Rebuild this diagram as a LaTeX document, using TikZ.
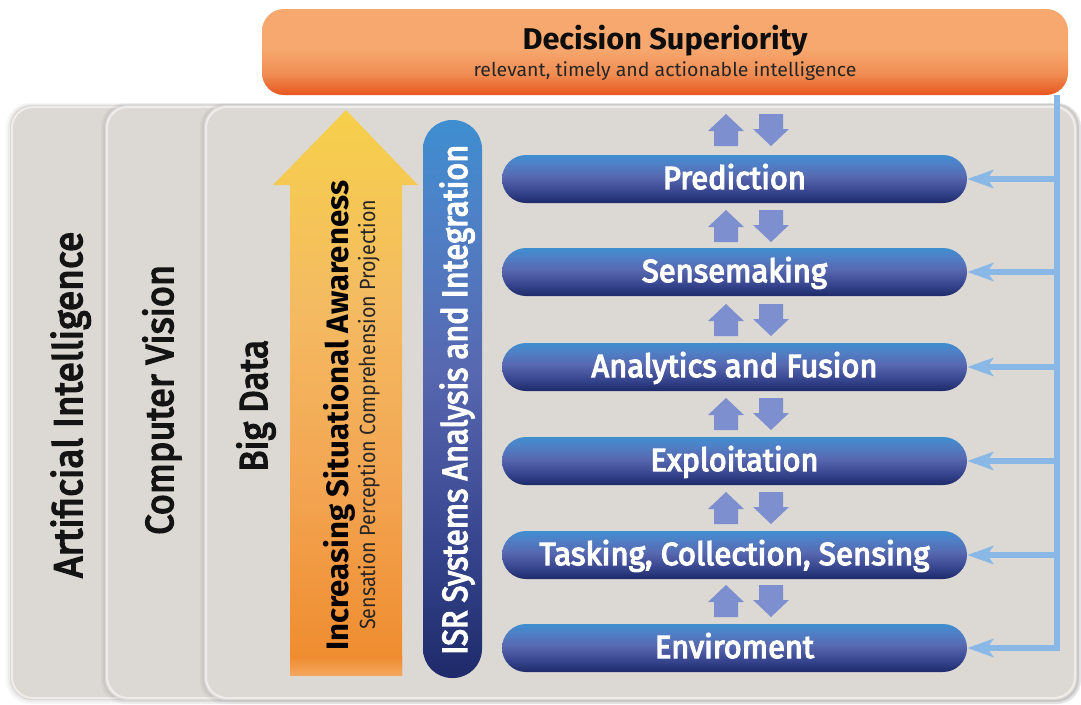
\documentclass[tikz,border=0pt]{standalone}
\usepackage{fontspec}
\setmainfont{Fira Sans}
\newfontfamily\firasemi{Fira Sans}[FakeBold=4]
\usetikzlibrary{arrows.meta}
\definecolor{panelgray}{HTML}{DCD9D5}
\definecolor{conncol}{HTML}{8AB8E6}
\definecolor{smallarr}{HTML}{7E8FD0}
\definecolor{dsbot}{HTML}{E7561F}
\definecolor{dsmid}{HTML}{F08C52}
\definecolor{dstop}{HTML}{F6A86E}
\definecolor{bbot}{HTML}{1E2A69}
\definecolor{bmid1}{HTML}{34438B}
\definecolor{bmid2}{HTML}{5767AF}
\definecolor{bmid3}{HTML}{4F80C6}
\definecolor{btop}{HTML}{3E8ED0}
\definecolor{obot}{HTML}{EF8A2D}
\definecolor{omid}{HTML}{F3A552}
\definecolor{omid2}{HTML}{F4BB62}
\definecolor{otop}{HTML}{F6D04A}
\definecolor{ostrip}{HTML}{F4A65E}
\pgfdeclareverticalshading{dsshade}{100bp}{color(0bp)=(dsbot); color(25bp)=(dsbot); color(37bp)=(dsmid); color(52bp)=(dstop); color(75bp)=(dstop); color(100bp)=(dstop)}
\pgfdeclareverticalshading{barshade}{100bp}{color(0bp)=(bbot); color(25bp)=(bbot); color(36bp)=(bmid1); color(52bp)=(bmid2); color(66bp)=(bmid3); color(75bp)=(btop); color(100bp)=(btop)}
\pgfdeclareverticalshading{orshade}{100bp}{color(0bp)=(obot); color(25bp)=(obot); color(42bp)=(omid); color(58bp)=(omid2); color(75bp)=(otop); color(100bp)=(otop)}
\newsavebox\fitbox
\newlength\fitlen
\newcommand{\fitw}[2]{\sbox\fitbox{#2}\setlength\fitlen{\wd\fitbox}\pgfmathsetmacro\fitr{#1/\fitlen}\scalebox{\fitr}[1]{\usebox\fitbox}}
\newcommand{\upar}[2]{\fill[smallarr] (#1,#2-16) -- (#1+18,#2+1) -- (#1+12,#2+1) -- (#1+12,#2+16) -- (#1-12,#2+16) -- (#1-12,#2+1) -- (#1-18,#2+1) -- cycle;}
\newcommand{\downar}[2]{\fill[smallarr] (#1,#2+16) -- (#1+18,#2-1) -- (#1+12,#2-1) -- (#1+12,#2-16) -- (#1-12,#2-16) -- (#1-12,#2-1) -- (#1-18,#2-1) -- cycle;}
\tikzset{
  bar/.style={shading=barshade, rounded corners=24pt, minimum width=465pt, minimum height=48pt,
    inner sep=0pt, text=white, text height=21pt, text depth=1pt,
    font=\fontsize{32}{36}\selectfont\firasemi},
  rlabel/.style={rotate=90, anchor=base west, inner sep=0pt},
  conn/.style={draw=conncol, line width=6pt},
  connarr/.style={conn, -{Stealth[length=26pt,width=18pt,inset=6pt]}},
}
\begin{document}
\begin{tikzpicture}[x=1pt,y=-1pt]
\useasboundingbox (0,0) rectangle (1081,704);
\fill[white] (0,0) rectangle (1081,704);
% panels
\foreach \xl in {10,105,204} {
  \fill[black,opacity=0.035,rounded corners=24pt] (\xl-4,103) rectangle (1081,704);
  \fill[black,opacity=0.04,rounded corners=23pt] (\xl-2,104) rectangle (1079,702);
  \fill[panelgray, rounded corners=22pt] (\xl,105) rectangle (1077,700);
  \draw[white,opacity=0.55,line width=2pt,rounded corners=21pt] (\xl+2,107) rectangle (1075,698);
}
\node[rlabel, font=\fontsize{40}{44}\selectfont\firasemi, text=black!92] (ai) at (82,578) {\fitw{346}{Artificial Intelligence}};
\node[rlabel, font=\fontsize{39}{44}\selectfont\firasemi, text=black!92] (cv) at (173,535) {\fitw{270}{Computer Vision}};
\node[rlabel, font=\fontsize{39}{44}\selectfont\firasemi, text=black!92] (bd) at (267,472) {\fitw{132}{Big Data}};
% orange arrow
\shade[shading=orshade] (290,675) -- (290,185) -- (273,185) -- (346,110) -- (418,185) -- (402,185) -- (402,675) -- cycle;
\shade[top color=obot, bottom color=ostrip] (290,656) rectangle (402,675);
\node[rlabel, font=\fontsize{31}{34}\selectfont\bfseries, text=black] (isa) at (348,651) {\fitw{470}{Increasing Situational Awareness}};
\node[rlabel, font=\fontsize{22}{24}\selectfont, text=black!85] (spcp) at (375,630) {\fitw{430}{Sensation Perception Comprehension Projection}};
% ISR bar
\node[shading=barshade, rounded corners=29pt, minimum width=59pt, minimum height=558pt, inner sep=0pt] (isr) at (452.5,399) {};
\node[rlabel, font=\fontsize{35}{38}\selectfont\firasemi, text=white] (isrt) at (467,655) {\fitw{510}{ISR Systems Analysis and Integration}};
% decision box
\node[shading=dsshade, rounded corners=22pt, minimum width=806pt, minimum height=86pt, inner sep=0pt] (ds) at (665,52) {};
\node[anchor=base, inner sep=0pt, font=\fontsize{30}{32}\selectfont\bfseries, text=black!95] (dst) at (665,49) {\fitw{285}{Decision Superiority}};
\node[anchor=base, inner sep=0pt, font=\fontsize{19}{22}\selectfont, text=black!85] (dss) at (665,76) {\fitw{383}{relevant, timely and actionable intelligence}};
% bars
\node[bar] (b1) at (734.5,179) {\fitw{143}{Prediction}};
\node[bar] (b2) at (734.5,272) {\fitw{185}{Sensemaking}};
\node[bar] (b3) at (734.5,367) {\fitw{286}{Analytics and Fusion}};
\node[bar] (b4) at (734.5,461) {\fitw{168}{Exploitation}};
\node[bar] (b5) at (734.5,555) {\fitw{390}{Tasking, Collection, Sensing}};
\node[bar] (b6) at (734.5,648) {\fitw{159}{Enviroment}};
% small arrows
\foreach \cy in {130,226,320,414,508,601} {
  \upar{726}{\cy}
  \downar{771}{\cy}
}
% connectors
\coordinate (rb) at (1057,648);
\draw[connarr, line join=miter] (ds.south -| rb) -- (rb) -- (b6.east);
\foreach \b in {b1,b2,b3,b4,b5} {
  \draw[connarr] (\b.east -| rb) -- (\b.east);
}
\end{tikzpicture}
\end{document}
